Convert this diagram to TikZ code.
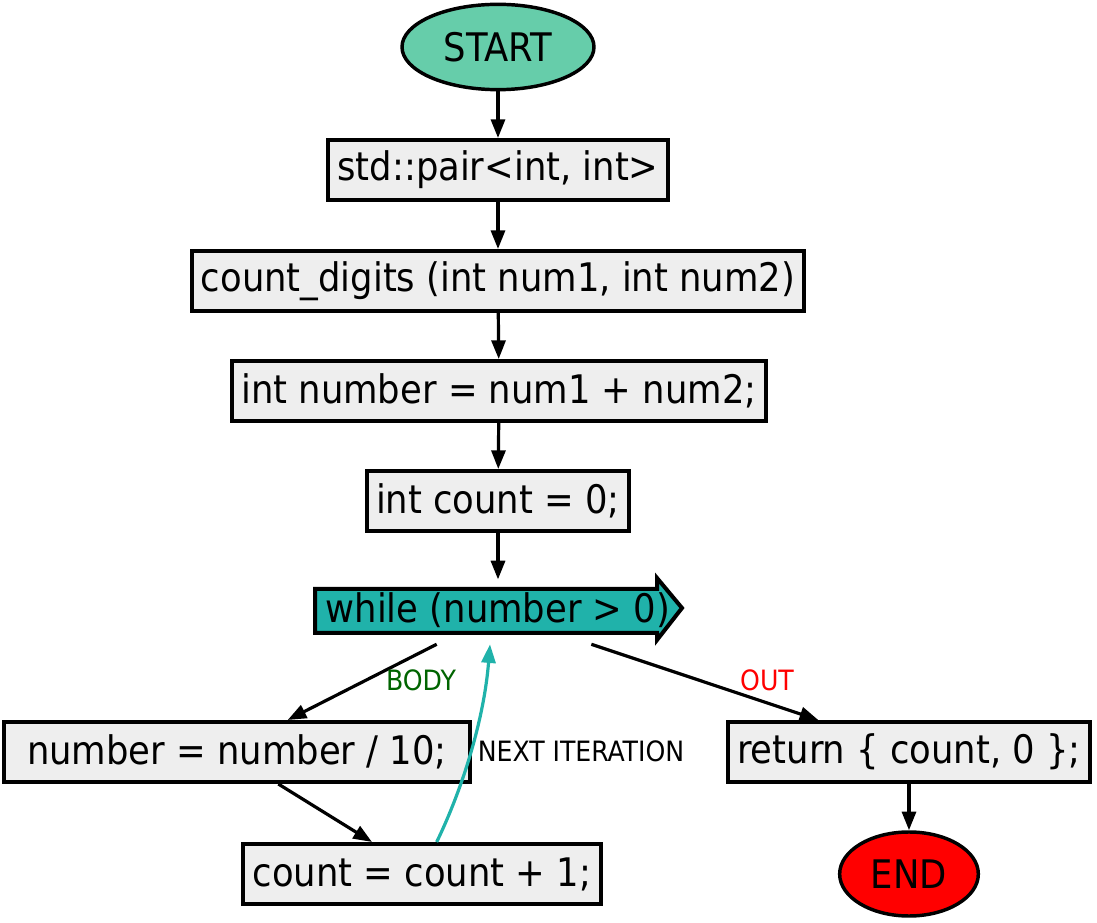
\documentclass[tikz,border=0pt]{standalone}
\usepackage{fontspec}
\setmainfont{DejaVu Sans Condensed}
\usetikzlibrary{arrows.meta, calc, shapes.geometric}
\definecolor{startgreen}{HTML}{66CDAA}
\definecolor{loopteal}{HTML}{20B2AA}
\definecolor{boxgray}{HTML}{EEEEEE}
\definecolor{bodygreen}{HTML}{006400}
\tikzset{
  stepbox/.style={draw, line width=3pt, fill=boxgray, inner xsep=7pt, minimum height=45pt, font=\fontsize{29.5}{35}\selectfont},
  term/.style={draw, ellipse, line width=2.6pt, inner sep=0pt, font=\fontsize{29.5}{35}\selectfont},
  edge/.style={line width=2.4pt, -{Triangle[length=14pt, width=10.5pt]}},
  lbl/.style={font=\fontsize{21}{24}\selectfont, inner sep=1pt}
}
\begin{document}
\begin{tikzpicture}[x=0.75pt, y=-0.75pt]
\useasboundingbox (0,0) rectangle (1097,923);
\node[term, fill=startgreen, minimum width=144pt, minimum height=64pt] (start) at (498,47) {START};
\node[stepbox] (pair) at (498,170) {std::pair<int, int>};
\node[stepbox] (count_digits) at (498,281) {count\_digits (int num1, int num2)};
\node[stepbox] (number) at (499,391) {int number = num1 + num2;};
\node[stepbox] (count) at (498,501) {int count = 0;};
\node[minimum width=275pt, minimum height=47pt, inner sep=0pt, font=\fontsize{29.5}{35}\selectfont] (while) at (498,610) {while (number > 0)};
\draw[line width=3pt, fill=loopteal, line join=miter]
  ($(while.center)+(-183,-21)$) -- ($(while.center)+(159,-21)$) -- ($(while.center)+(159,-32)$)
  -- ($(while.center)+(184,-2)$) -- ($(while.center)+(159,30)$) -- ($(while.center)+(159,23)$)
  -- ($(while.center)+(-183,23)$) -- cycle;
\node[font=\fontsize{29.5}{35}\selectfont, inner sep=0pt] at (while.center) {while (number > 0)};
\node[stepbox, minimum width=350pt] (divide) at (237,752) {number = number / 10;};
\node[stepbox] (increment) at (422,874) {count = count + 1;};
\node[stepbox] (ret) at (909,752) {return \{ count, 0 \};};
\node[term, fill=red, minimum width=104pt, minimum height=63pt] (end) at (909,874) {END};

\draw[edge] (start) -- (pair);
\draw[edge] (pair) -- (count_digits);
\draw[edge] (count_digits) -- (number);
\draw[edge] (number) -- (count);
\draw[edge] (count) -- ([yshift=-0.75pt]while.north);
\draw[edge] ([xshift=-46pt, yshift=-2pt]while.south) -- ([xshift=38pt]divide.north);
\draw[edge] ([xshift=70pt, yshift=-2pt]while.south) -- ([xshift=-68pt]ret.north);
\draw[edge] ([xshift=31pt]divide.south) -- ([xshift=-37.5pt]increment.north);
\draw[edge, color=loopteal] ([xshift=11pt]increment.north) .. controls (462,790) and (484,720) .. ([xshift=-6pt, yshift=-2pt]while.south);
\draw[edge] (ret) -- (end);
% edge labels
\node[lbl, text=bodygreen] (body) at (421,680) {BODY};
\node[lbl, text=red] (out) at (767,680) {OUT};
\node[lbl] (next) at (581,751) {NEXT ITERATION};
\end{tikzpicture}
\end{document}
